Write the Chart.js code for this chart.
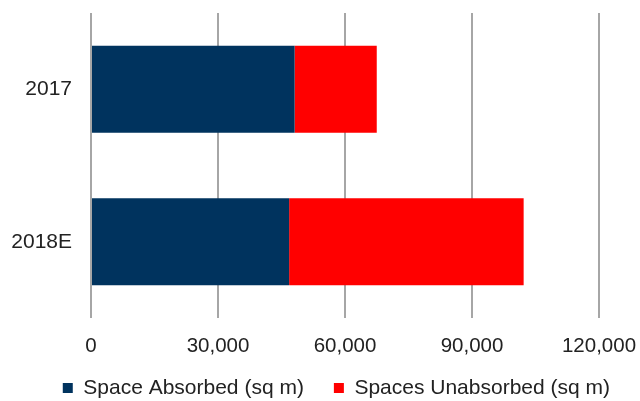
<!DOCTYPE html>
<html>
<head>
<meta charset="utf-8">
<script src="https://cdn.jsdelivr.net/npm/chart.js@4/dist/chart.umd.min.js"></script>
<style>
  html, body { margin: 0; padding: 0; background: #fff; }
  #wrap { width: 640px; height: 401px; }
</style>
</head>
<body>
<div id="wrap"><canvas id="c" width="640" height="401"></canvas></div>
<script>
// Office space absorption, square metres
const categories = ['2017', '2018E'];
const absorbed = [48100, 46800];
const unabsorbed = [19400, 55400];
const seriesNames = ['Space Absorbed (sq m)', 'Spaces Unabsorbed (sq m)'];
const xTicks = [0, 30000, 60000, 90000, 120000];

const FONT = 'Liberation Sans, Arial, sans-serif';

// the legend row overlaps the x-axis box, so let the tick labels draw below it
const tickLabelRoom = {
  id: 'tickLabelRoom',
  afterLayout(chart) { chart.scales.x.bottom = chart.height; }
};

new Chart(document.getElementById('c'), {
  type: 'bar',
  data: {
    labels: categories,
    datasets: [
      { label: seriesNames[0], data: absorbed, backgroundColor: '#00335E', borderWidth: 0 },
      { label: seriesNames[1], data: unabsorbed, backgroundColor: '#FF0000', borderWidth: 0 }
    ]
  },
  plugins: [tickLabelRoom],
  options: {
    indexAxis: 'y',
    responsive: false,
    animation: false,
    // legend row sits low, its bottom padding runs past the canvas edge
    layout: { padding: { top: 13, right: 0, left: 0, bottom: -7.5 } },
    datasets: { bar: { categoryPercentage: 0.57, barPercentage: 1 } },
    scales: {
      x: {
        stacked: true,
        min: 0,
        max: 120000,
        afterBuildTicks: (s) => { s.ticks = xTicks.map(v => ({ value: v })); },
        afterFit: (s) => { s.height = 29.5; s.paddingRight = 41; s.paddingLeft = 0; },
        grid: { color: '#a6a6a6', lineWidth: 2, drawTicks: false },
        border: { display: false },
        ticks: {
          color: '#222',
          padding: 16,
          font: { family: FONT, size: 20.5 },
          callback: (v) => v.toLocaleString('en-US')
        }
      },
      y: {
        stacked: true,
        afterFit: (s) => { s.width = 91; s.paddingTop = 0; s.paddingBottom = 0; },
        grid: { display: false },
        border: { display: false },
        ticks: {
          color: '#222',
          padding: 11,
          font: { family: FONT, size: 21 }
        }
      }
    },
    plugins: {
      legend: {
        position: 'bottom',
        align: 'end',
        labels: {
          color: '#222',
          boxWidth: 10,
          boxHeight: 10,
          padding: 30,
          font: { family: FONT, size: 21 }
        }
      },
      tooltip: { enabled: false }
    }
  }
});
</script>
</body>
</html>
